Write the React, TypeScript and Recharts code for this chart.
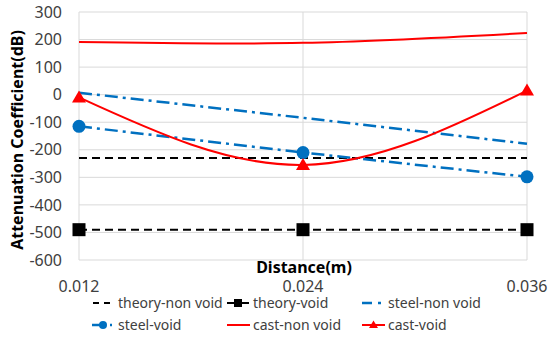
import React from "react";
import { LineChart, Line, XAxis, YAxis, CartesianGrid, Legend } from "recharts";

const distances = [0.012, 0.024, 0.036];
const theoryNonVoid = [-230, -230, -230];
const theoryVoid = [-490, -490, -490];
const steelNonVoid = [7, -84, -178];
const steelVoid = [-115, -210, -298];
const castNonVoid = [191, 188, 224];
const castVoid = [-10, -255, 15];
const yTicks = [-600, -500, -400, -300, -200, -100, 0, 100, 200, 300];

const BLUE = "#0070C0";
const RED = "#FF0000";
const FONT = "'Noto Sans', sans-serif";

const data = distances.map((d, i) => ({
  d,
  theoryNonVoid: theoryNonVoid[i],
  theoryVoid: theoryVoid[i],
  steelNonVoid: steelNonVoid[i],
  steelVoid: steelVoid[i],
  castNonVoid: castNonVoid[i],
  castVoid: castVoid[i],
}));

const SquareDot = (p: any) => (
  <rect key={p.key} x={p.cx - 6.5} y={p.cy - 6.5} width={13} height={13} fill="#000" />
);
const TriDot = (p: any) => (
  <path key={p.key} d={`M${p.cx},${p.cy - 7} L${p.cx + 7},${p.cy + 5} L${p.cx - 7},${p.cy + 5} Z`} fill={RED} />
);

const legendItems = [
  { name: "theory-non void", icon: <line x1={1} y1={6} x2={22} y2={6} stroke="#000" strokeWidth={2} strokeDasharray="6 5" /> },
  {
    name: "theory-void",
    icon: (
      <g>
        <line x1={0} y1={6} x2={22} y2={6} stroke="#000" strokeWidth={2} />
        <rect x={7} y={2} width={8} height={8} fill="#000" />
      </g>
    ),
  },
  { name: "steel-non void", icon: <line x1={0} y1={6} x2={24} y2={6} stroke={BLUE} strokeWidth={2.5} strokeDasharray="10 6 3 6" /> },
  {
    name: "steel-void",
    icon: (
      <g>
        <line x1={0} y1={6} x2={24} y2={6} stroke={BLUE} strokeWidth={2.5} strokeDasharray="14 4 2 6" />
        <circle cx={11} cy={6} r={4} fill={BLUE} />
      </g>
    ),
  },
  { name: "cast-non void", icon: <line x1={0} y1={6} x2={23} y2={6} stroke={RED} strokeWidth={2} /> },
  {
    name: "cast-void",
    icon: (
      <g>
        <line x1={0} y1={6} x2={23} y2={6} stroke={RED} strokeWidth={2} />
        <path d="M11.5,1.5 L16,9 L7,9 Z" fill={RED} />
      </g>
    ),
  },
];
const legendCols = [92, 227, 362];
const legendRows = [303, 325];

function LegendBox() {
  return (
    <div style={{ position: "relative", width: 549, height: 45, fontFamily: FONT, fontSize: 14, lineHeight: "12px", color: "#404040" }}>
      {legendItems.map((it, i) => {
        const x = legendCols[i % 3];
        const y = legendRows[Math.floor(i / 3)] - 292;
        return (
          <div key={it.name} style={{ position: "absolute", left: x, top: y - 6, height: 12, display: "flex", alignItems: "center", whiteSpace: "nowrap" }}>
            <svg width={24} height={12} style={{ marginRight: 2 }}>{it.icon}</svg>
            <span>{it.name}</span>
          </div>
        );
      })}
    </div>
  );
}

export default function App() {
  return (
    <div style={{ position: "absolute", left: 0, top: 0, width: 549, height: 337, background: "#fff" }}>
      <LineChart width={549} height={337} data={data} margin={{ top: 12, right: 22, left: 0, bottom: 0 }} style={{ fontFamily: FONT }}>
        <CartesianGrid stroke="#d9d9d9" strokeWidth={1} />
        <XAxis
          dataKey="d"
          type="number"
          domain={[0.012, 0.036]}
          ticks={distances}
          height={77}
          axisLine={false}
          tickLine={false}
          tickMargin={15}
          tick={{ fontSize: 16, fill: "#404040" }}
          label={() => (
            <text x={304} y={273} textAnchor="middle" fontSize={16} fontWeight="bold" fill="#000">Distance(m)</text>
          )}
        />
        <YAxis
          domain={[-600, 300]}
          ticks={yTicks}
          width={79}
          axisLine={false}
          tickLine={false}
          tickMargin={11}
          tick={{ fontSize: 16, fill: "#404040" }}
          label={() => (
            <text x={17} y={140} transform="rotate(-90, 17, 140)" textAnchor="middle" dominantBaseline="central" fontSize={16} fontWeight="bold" fill="#000">
              Attenuation Coefficient(dB)
            </text>
          )}
        />
        <Legend verticalAlign="middle" align="center" layout="horizontal" wrapperStyle={{ left: 0, top: 292, width: 549 }} content={() => <LegendBox />} />
        <Line dataKey="theoryNonVoid" stroke="#000" strokeWidth={2} strokeDasharray="8 5" dot={false} isAnimationActive={false} />
        <Line dataKey="theoryVoid" stroke="#000" strokeWidth={2} strokeDasharray="8 5" dot={SquareDot} isAnimationActive={false} />
        <Line dataKey="steelNonVoid" stroke={BLUE} strokeWidth={2.5} strokeDasharray="13 5 3 5" dot={false} isAnimationActive={false} />
        <Line dataKey="steelVoid" stroke={BLUE} strokeWidth={2.5} strokeDasharray="13 5 3 5" dot={{ r: 6.5, fill: BLUE, stroke: "none" }} isAnimationActive={false} />
        <Line type="natural" dataKey="castNonVoid" stroke={RED} strokeWidth={2} dot={false} isAnimationActive={false} />
        <Line type="natural" dataKey="castVoid" stroke={RED} strokeWidth={2} dot={TriDot} isAnimationActive={false} />
      </LineChart>
    </div>
  );
}
